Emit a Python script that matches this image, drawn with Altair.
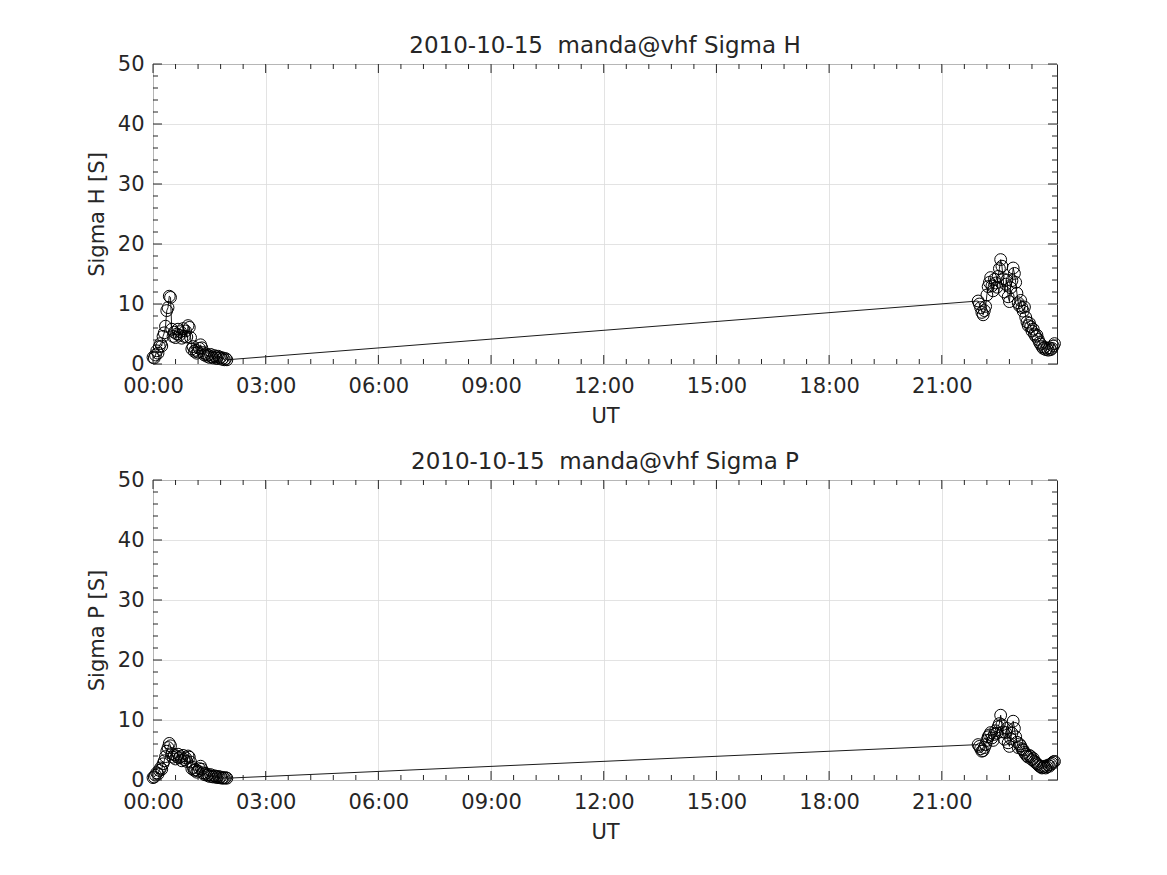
import altair as alt
import pandas as pd

# UT time of each sample, minutes after 00:00
TIME = [0, 2, 4, 6, 8, 10, 12, 14, 16, 18, 20, 22, 24, 26, 28, 30, 32, 34, 36, 38,
        40, 42, 44, 46, 48, 50, 52, 54, 56, 58, 60, 62, 64, 66, 68, 70, 72, 74, 76, 78,
        80, 82, 84, 86, 88, 90, 92, 94, 96, 98, 100, 102, 104, 106, 108, 110, 112, 114, 116, 118,
        1318, 1320, 1322, 1324, 1326, 1328, 1330, 1332, 1334, 1336,
        1338, 1340, 1342, 1344, 1346, 1348, 1350, 1352, 1354, 1356,
        1358, 1360, 1362, 1364, 1366, 1368, 1370, 1372, 1374, 1376,
        1378, 1380, 1382, 1384, 1386, 1388, 1390, 1392, 1394, 1396,
        1398, 1400, 1402, 1404, 1406, 1408, 1410, 1412, 1414, 1416,
        1418, 1420, 1422, 1424, 1426, 1428, 1430, 1432, 1434, 1436,
        1438, 1440]

SIGMA_H = [1.1, 1.0, 1.5, 2.2, 1.8, 2.9, 3.4, 3.0, 4.6, 5.2,
           6.3, 8.9, 9.4, 11.3, 11.1, 5.8, 4.6, 5.3, 4.4, 5.0,
           5.8, 4.8, 5.4, 4.3, 5.9, 4.6, 5.5, 4.5, 6.4, 6.1,
           4.4, 2.5, 2.9, 2.1, 2.3, 1.8, 2.0, 2.6, 3.2, 2.7,
           1.9, 1.5, 1.7, 1.3, 1.5, 1.1, 1.6, 1.2, 1.0, 1.4,
           1.2, 0.9, 1.3, 1.0, 1.1, 0.8, 1.0, 0.7, 0.9, 0.7,
           10.5, 10.0, 9.4, 8.6, 8.2, 8.9, 9.6, 11.5, 12.9, 13.6,
           14.4, 13.0, 12.2, 14.1, 13.5, 12.8, 14.6, 15.9, 17.4, 16.3,
           14.2, 12.0, 13.3, 14.0, 11.2, 10.4, 12.7, 13.9, 16.0, 15.1,
           13.6, 11.8, 10.2, 9.7, 10.6, 9.4, 8.8, 9.5, 7.8, 7.0,
           6.4, 6.8, 6.2, 5.5, 5.8, 5.0, 4.6, 4.8, 4.1, 3.6,
           3.3, 2.9, 2.6, 2.8, 2.4, 2.6, 2.3, 2.7, 2.4, 2.6,
           3.0, 3.4]

SIGMA_P = [0.4, 0.5, 0.8, 1.2, 1.0, 1.6, 2.0, 1.8, 2.7, 3.2,
           3.9, 4.8, 5.4, 6.1, 5.7, 4.4, 3.8, 4.2, 3.5, 3.9,
           4.3, 3.7, 3.9, 3.2, 4.1, 3.4, 3.7, 3.1, 4.0, 3.8,
           3.0, 1.9, 2.1, 1.6, 1.7, 1.3, 1.5, 1.9, 2.3, 1.8,
           1.2, 0.9, 1.1, 0.8, 0.9, 0.6, 0.9, 0.6, 0.5, 0.7,
           0.6, 0.4, 0.6, 0.4, 0.5, 0.3, 0.4, 0.3, 0.4, 0.3,
           5.9, 5.6, 5.2, 4.8, 4.9, 5.4, 5.9, 6.6, 7.2, 7.5,
           7.9, 7.0, 6.6, 7.6, 8.2, 7.8, 8.9, 9.4, 10.8, 9.2,
           8.0, 6.8, 7.9, 8.6, 6.2, 5.6, 6.9, 7.8, 9.8, 8.6,
           7.2, 6.3, 5.4, 6.0, 5.7, 5.2, 5.0, 4.6, 4.3, 4.0,
           3.8, 4.1, 3.9, 3.4, 3.6, 3.1, 2.9, 2.7, 2.5, 2.3,
           2.2, 2.0, 2.1, 2.3, 2.0, 2.2, 2.5, 2.3, 2.6, 2.8,
           3.0, 3.1]

X_MAJOR = [0, 180, 360, 540, 720, 900, 1080, 1260]
X_MINOR = [m for m in range(36, 1441, 36) if m % 180 != 0]
Y_MAJOR = [0, 10, 20, 30, 40, 50]
Y_MINOR = [v for v in range(2, 50, 2) if v % 10 != 0]

TITLE_DATE = "2010-10-15\u00a0 manda@vhf"

W, H = 904, 300
INK = "#262626"
FONT = "DejaVu Sans"
MAJ, MIN = 9, 5

xscale = alt.Scale(domain=[0, 1444], nice=False, zero=False)
yscale = alt.Scale(domain=[0, 50], nice=False, zero=False)

AX = dict(grid=True, ticks=False, domain=False, labelFont=FONT, titleFont=FONT,
          labelFontSize=21, titleFontSize=21, labelColor=INK, titleColor=INK,
          titleFontWeight="normal", gridColor="#dcdcdc", gridWidth=0.8)


def panel(values, name, ytitle):
    df = pd.DataFrame({"t": TIME, "v": values})
    x = alt.X("t:Q", scale=xscale, title="UT",
              axis=alt.Axis(values=X_MAJOR,
                            labelExpr="(datum.value < 600 ? '0' : '') + floor(datum.value/60) + ':00'",
                            labelPadding=11, titlePadding=9, labelFlush=False, labelOverlap=False, **AX))
    y = alt.Y("v:Q", scale=yscale, title=ytitle,
              axis=alt.Axis(values=Y_MAJOR, labelPadding=9, titlePadding=10, **AX))
    line = alt.Chart(df).mark_line(color="black", strokeWidth=0.9).encode(x=x, y=y, order="t:Q")
    pts = alt.Chart(df).mark_point(shape="circle", filled=False, color="black", size=140,
                                   strokeWidth=1.0, opacity=1).encode(x="t:Q", y="v:Q")

    xmaj = pd.DataFrame({"t": X_MAJOR})
    xmin = pd.DataFrame({"t": X_MINOR})
    ymaj = pd.DataFrame({"v": Y_MAJOR})
    ymin = pd.DataFrame({"v": Y_MINOR})
    rule = dict(color=INK, strokeWidth=1)
    layers = [line, pts]
    for d, L in ((xmaj, MAJ), (xmin, MIN)):
        layers.append(alt.Chart(d).mark_rule(**rule).encode(x="t:Q", y=alt.value(H), y2=alt.value(H - L)))
        layers.append(alt.Chart(d).mark_rule(**rule).encode(x="t:Q", y=alt.value(0), y2=alt.value(L)))
    for d, L in ((ymaj, MAJ), (ymin, MIN)):
        layers.append(alt.Chart(d).mark_rule(**rule).encode(y="v:Q", x=alt.value(0), x2=alt.value(L)))
        layers.append(alt.Chart(d).mark_rule(**rule).encode(y="v:Q", x=alt.value(W), x2=alt.value(W - L)))
    return alt.layer(*layers).properties(
        width=W, height=H,
        title=alt.TitleParams(f"{TITLE_DATE} {name}", fontSize=23, font=FONT, color=INK,
                              fontWeight="normal", offset=-5, anchor="middle"))


top = panel(SIGMA_H, "Sigma H", "Sigma H [S]")
bot = panel(SIGMA_P, "Sigma P", "Sigma P [S]")

chart = alt.vconcat(top, bot, spacing=23).properties(
    padding={"left": 77, "top": 26, "right": 5, "bottom": 5},
    background="white"
).configure_view(stroke=INK, strokeWidth=1)

chart.save("out.html", embed_options={"renderer": "svg", "actions": False})
